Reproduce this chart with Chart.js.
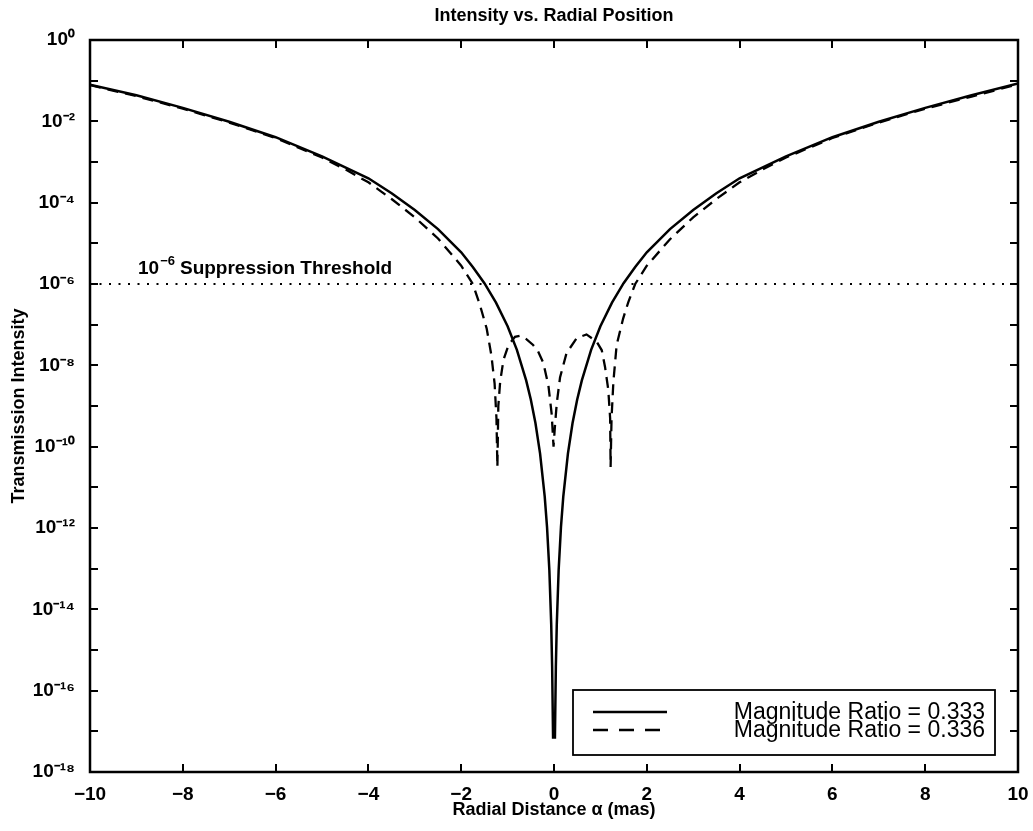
<!DOCTYPE html>
<html><head><meta charset="utf-8">
<script src="https://cdn.jsdelivr.net/npm/chart.js@4.4.0/dist/chart.umd.min.js"></script>
<style>html,body{margin:0;padding:0;background:#fff;} canvas{display:block;}</style>
</head><body>
<canvas id="c" width="1033" height="831"></canvas>
<script>
// ---- text ----
const chartTitle = 'Intensity vs. Radial Position';
const xAxisTitle = 'Radial Distance \u03B1 (mas)';
const yAxisTitle = 'Transmission Intensity';
const seriesLabels = ['Magnitude Ratio = 0.333', 'Magnitude Ratio = 0.336'];
const thresholdLabel = 'Suppression Threshold';
const thresholdExponent = -6;

// ---- ticks ----
const xTickValues = [-10, -8, -6, -4, -2, 0, 2, 4, 6, 8, 10];
const yTickExponents = [-18, -17, -16, -15, -14, -13, -12, -11, -10, -9, -8, -7, -6, -5, -4, -3, -2, -1, 0];

// ---- series (alpha in mas, log10 of intensity) ----
const alphaSolid = [-10, -9, -8, -7, -6, -5, -4, -3.5, -3, -2.5, -2, -1.75, -1.5, -1.25, -1, -0.8, -0.6, -0.5, -0.4, -0.3, -0.2, -0.15, -0.1, -0.06, -0.04, -0.02,
  0.02, 0.04, 0.06, 0.1, 0.15, 0.2, 0.3, 0.4, 0.5, 0.6, 0.8, 1, 1.25, 1.5, 1.75, 2, 2.5, 3, 3.5, 4, 5, 6, 7, 8, 9, 10];
const logSolid = [-1.10, -1.36, -1.67, -2.01, -2.39, -2.86, -3.40, -3.77, -4.18, -4.65, -5.22, -5.58, -5.98, -6.46, -7.04, -7.62, -8.37, -8.84, -9.42, -10.17, -11.23, -11.98, -13.04, -14.37, -15.42, -17.15,
  -17.15, -15.42, -14.37, -13.04, -11.98, -11.23, -10.17, -9.42, -8.84, -8.37, -7.62, -7.04, -6.46, -5.98, -5.58, -5.22, -4.65, -4.18, -3.77, -3.40, -2.86, -2.39, -2.01, -1.67, -1.36, -1.07];

const alphaDashed = [-10, -9, -8, -7, -6, -5, -4.5, -4, -3.5, -3, -2.5, -2, -1.75, -1.6, -1.45, -1.35, -1.28, -1.24, -1.22, -1.2,
  -1.16, -1.09, -0.98, -0.84, -0.72, -0.59, -0.45, -0.35, -0.23, -0.12, -0.05, -0.01, 0.02, 0.06, 0.13, 0.27, 0.49, 0.70, 0.92, 1.03,
  1.10, 1.17, 1.21, 1.22, 1.24, 1.28, 1.35, 1.49, 1.6, 1.75, 2, 2.5, 3, 3.5, 4, 4.5, 5, 6, 7, 8, 9, 10];
const logDashed = [-1.11, -1.38, -1.69, -2.03, -2.41, -2.89, -3.18, -3.50, -3.91, -4.36, -4.88, -5.55, -6.0, -6.5, -7.1, -7.75, -8.45, -9.3, -10.5, -9.0,
  -8.4, -7.87, -7.5, -7.3, -7.27, -7.36, -7.5, -7.64, -7.94, -8.5, -9.2, -10.0, -9.5, -8.93, -8.3, -7.7, -7.33, -7.24, -7.42, -7.63,
  -8.04, -8.6, -9.3, -10.5, -9.3, -8.4, -7.5, -6.85, -6.45, -6.0, -5.55, -4.9, -4.36, -3.91, -3.50, -3.18, -2.89, -2.41, -2.03, -1.69, -1.39, -1.09];

// ---- helpers ----
const SUP = {'0':'\u2070','1':'\u00B9','2':'\u00B2','3':'\u00B3','4':'\u2074','5':'\u2075','6':'\u2076','7':'\u2077','8':'\u2078','9':'\u2079','-':'\u207B'};
const toSup = n => String(n).split('').map(c => SUP[c]).join('');
const fmtNum = v => (v < 0 ? '\u2212' + Math.abs(v) : String(v));
const toPoints = (xs, ls) => xs.map((x, i) => ({x: x, y: Math.pow(10, ls[i])}));

const FONT = '"Liberation Sans", Arial, Helvetica, sans-serif';
Chart.defaults.font.family = FONT;
Chart.defaults.color = '#000';

const decorPlugin = {
  id: 'decor',
  afterDraw(chart) {
    const ctx = chart.ctx, ca = chart.chartArea;
    const xs = chart.scales.x, ys = chart.scales.y;
    ctx.save();
    ctx.strokeStyle = '#000';
    ctx.fillStyle = '#000';
    // inside tick marks
    ctx.lineWidth = 2;
    const tl = 8;
    xTickValues.forEach(v => {
      if (v === xTickValues[0] || v === xTickValues[xTickValues.length - 1]) return;
      const px = Math.round(xs.getPixelForValue(v));
      ctx.beginPath();
      ctx.moveTo(px, ca.bottom); ctx.lineTo(px, ca.bottom - tl);
      ctx.moveTo(px, ca.top); ctx.lineTo(px, ca.top + tl);
      ctx.stroke();
    });
    yTickExponents.forEach(e => {
      if (e === yTickExponents[0] || e === yTickExponents[yTickExponents.length - 1]) return;
      const py = Math.round(ys.getPixelForValue(Math.pow(10, e)));
      ctx.beginPath();
      ctx.moveTo(ca.left, py); ctx.lineTo(ca.left + tl, py);
      ctx.moveTo(ca.right, py); ctx.lineTo(ca.right - tl, py);
      ctx.stroke();
    });
    // frame
    ctx.lineWidth = 2.5;
    ctx.strokeRect(ca.left, ca.top, ca.right - ca.left, ca.bottom - ca.top);

    // title
    ctx.font = 'bold 18px ' + FONT;
    ctx.textAlign = 'center';
    ctx.textBaseline = 'middle';
    ctx.fillText(chartTitle, (ca.left + ca.right) / 2, 16);

    // threshold annotation
    const ty = ys.getPixelForValue(Math.pow(10, thresholdExponent)) - 10;
    let tx = ca.left + 48;
    ctx.textAlign = 'left';
    ctx.textBaseline = 'alphabetic';
    ctx.font = 'bold 19px ' + FONT;
    ctx.fillText('10', tx, ty);
    tx += ctx.measureText('10').width + 1;
    ctx.font = 'bold 13px ' + FONT;
    const supTxt = '\u2212' + Math.abs(thresholdExponent);
    ctx.fillText(supTxt, tx, ty - 9);
    tx += ctx.measureText(supTxt).width + 5;
    ctx.font = 'bold 19px ' + FONT;
    ctx.fillText(thresholdLabel, tx, ty);

    // legend
    const bw = 422, bh = 65;
    const bx = ca.right - 445, by = ca.bottom - 82;
    ctx.fillStyle = '#fff';
    ctx.fillRect(bx, by, bw, bh);
    ctx.lineWidth = 1.8;
    ctx.strokeStyle = '#000';
    ctx.strokeRect(bx, by, bw, bh);
    ctx.fillStyle = '#000';
    ctx.font = '23px ' + FONT;
    ctx.textAlign = 'right';
    ctx.textBaseline = 'middle';
    [0, 1].forEach(i => {
      const ds = chart.data.datasets[i];
      const ry = by + 22 + i * 18;
      ctx.save();
      ctx.lineWidth = ds.borderWidth;
      ctx.setLineDash(ds.borderDash ? [15, 11] : []);
      ctx.beginPath();
      ctx.moveTo(bx + 20, ry); ctx.lineTo(bx + 94, ry);
      ctx.stroke();
      ctx.restore();
      ctx.fillText(ds.label, bx + bw - 10, ry + 1);
    });
    ctx.restore();
  }
};

new Chart(document.getElementById('c'), {
  type: 'line',
  data: {
    datasets: [
      { label: seriesLabels[0], data: toPoints(alphaSolid, logSolid), borderColor: '#000', borderWidth: 2.5, pointRadius: 0, tension: 0, fill: false },
      { label: seriesLabels[1], data: toPoints(alphaDashed, logDashed), borderColor: '#000', borderWidth: 2.3, borderDash: [11, 7], pointRadius: 0, tension: 0, fill: false },
      { label: '10' + toSup(thresholdExponent) + ' ' + thresholdLabel, data: [{x: -10, y: Math.pow(10, thresholdExponent)}, {x: 10, y: Math.pow(10, thresholdExponent)}], borderColor: '#000', borderWidth: 2, borderDash: [2, 7.5], pointRadius: 0, fill: false }
    ]
  },
  options: {
    responsive: false,
    animation: false,
    devicePixelRatio: 1,
    layout: { padding: { left: 0, right: 15, top: 40, bottom: 0 } },
    plugins: { legend: { display: false }, title: { display: false }, tooltip: { enabled: false } },
    scales: {
      x: {
        type: 'linear', min: -10, max: 10,
        grid: { display: false },
        border: { display: false },
        afterBuildTicks: s => { s.ticks = xTickValues.map(v => ({value: v})); },
        afterFit: s => { s.height = 59; s.paddingLeft = 0; s.paddingRight = 0; },
        ticks: { autoSkip: false, maxRotation: 0, padding: 3, font: { size: 19, weight: 'bold' }, callback: v => fmtNum(v) },
        title: { display: true, text: xAxisTitle, font: { size: 18, weight: 'bold' }, padding: { top: 0, bottom: 10 } }
      },
      y: {
        type: 'logarithmic', min: 1e-18, max: 1,
        grid: { display: false },
        border: { display: false },
        afterBuildTicks: s => { s.ticks = yTickExponents.map(e => ({value: Math.pow(10, e)})); },
        afterFit: s => { s.width = 90; s.paddingTop = 0; s.paddingBottom = 0; },
        ticks: { autoSkip: false, padding: 7, font: { size: 19, weight: 'bold' },
          callback: v => { const e = Math.round(Math.log10(v)); return e % 2 === 0 ? '10' + toSup(e) : ''; } },
        title: { display: true, text: yAxisTitle, font: { size: 18, weight: 'bold' }, padding: { top: 8, bottom: 0 } }
      }
    }
  },
  plugins: [decorPlugin]
});
</script>
</body></html>
